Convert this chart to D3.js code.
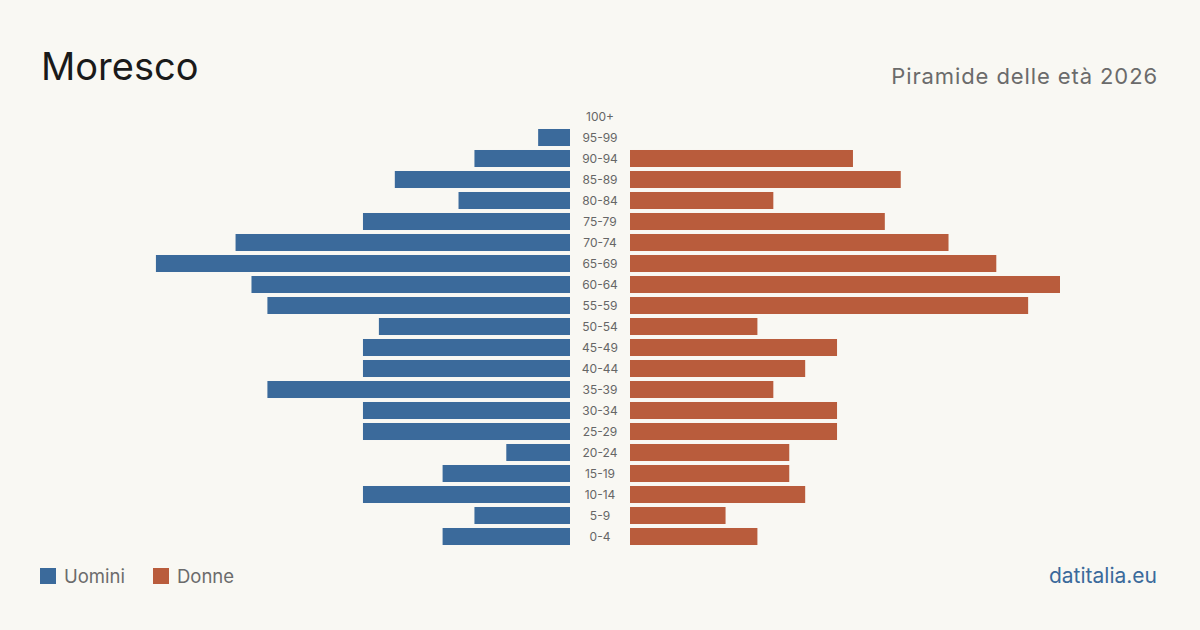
<!DOCTYPE html>
<html>
<head>
<meta charset="utf-8">
<script src="https://cdn.jsdelivr.net/npm/d3@7"></script>
<style>
  html, body { margin: 0; padding: 0; background: #f9f8f3; }
  svg { display: block; font-family: Inter, "Noto Sans", sans-serif; }
</style>
</head>
<body>
<svg id="chart"></svg>
<script>
// age classes, from youngest to oldest
const ages = ["0-4","5-9","10-14","15-19","20-24","25-29","30-34","35-39","40-44","45-49",
              "50-54","55-59","60-64","65-69","70-74","75-79","80-84","85-89","90-94","95-99","100+"];
const men   = [8, 6, 13, 8, 4, 13, 13, 19, 13, 13, 12, 19, 20, 26, 21, 13, 7, 11, 6, 2, 0];
const women = [8, 6, 11, 10, 10, 13, 13, 9, 11, 13, 8, 25, 27, 23, 20, 16, 9, 17, 14, 0, 0];

const title = "Moresco";
const subtitle = "Piramide delle età 2026";
const seriesNames = ["Uomini", "Donne"];
const source = "datitalia.eu";

const W = 1200, H = 630;
const colMen = "#3b6a9b", colWomen = "#b95c3c";

const svg = d3.select("#chart").attr("width", W).attr("height", H);
svg.append("rect").attr("width", W).attr("height", H).attr("fill", "#f9f8f3");

const rows = ages.map((a, i) => ({age: a, m: men[i], f: women[i]}));

const y = d3.scaleBand()
    .domain(ages.slice().reverse())
    .range([106, 547])
    .paddingInner(0.19)
    .paddingOuter(0.095);

const maxV = d3.max([...men, ...women]);
const xMen = d3.scaleLinear().domain([0, maxV]).range([570, 140]);
const xWomen = d3.scaleLinear().domain([0, maxV]).range([630, 1060]);

// bars
svg.append("g").selectAll("rect")
    .data(rows.filter(d => d.m > 0))
    .join("rect")
    .attr("x", d => xMen(d.m))
    .attr("y", d => y(d.age))
    .attr("width", d => xMen(0) - xMen(d.m))
    .attr("height", y.bandwidth())
    .attr("fill", colMen);

svg.append("g").selectAll("rect")
    .data(rows.filter(d => d.f > 0))
    .join("rect")
    .attr("x", xWomen(0))
    .attr("y", d => y(d.age))
    .attr("width", d => xWomen(d.f) - xWomen(0))
    .attr("height", y.bandwidth())
    .attr("fill", colWomen);

// age labels in the middle
svg.append("g").selectAll("text")
    .data(ages)
    .join("text")
    .attr("x", 600)
    .attr("y", d => y(d) + y.bandwidth() / 2)
    .attr("dy", "0.35em")
    .attr("text-anchor", "middle")
    .attr("font-size", 12)
    .attr("fill", "#666")
    .text(d => d);

// titles
svg.append("text")
    .attr("x", 41).attr("y", 80)
    .attr("font-size", 38)
    .attr("fill", "#1a1a1a")
    .text(title);

svg.append("text")
    .attr("x", 1158).attr("y", 84)
    .attr("text-anchor", "end")
    .attr("font-size", 22)
    .attr("letter-spacing", 0.9)
    .attr("fill", "#6b6b6b")
    .text(subtitle);

// legend
const legend = svg.append("g").selectAll("g")
    .data(seriesNames)
    .join("g")
    .attr("transform", (d, i) => `translate(${40 + i * 113}, 568)`);
legend.append("rect")
    .attr("width", 16).attr("height", 16)
    .attr("fill", (d, i) => i === 0 ? colMen : colWomen);
legend.append("text")
    .attr("x", 24).attr("y", 15)
    .attr("font-size", 18.5)
    .attr("fill", "#6b6b6b")
    .text(d => d);

svg.append("text")
    .attr("x", 1157).attr("y", 583)
    .attr("text-anchor", "end")
    .attr("font-size", 21)
    .attr("fill", "#3b6a9b")
    .text(source);
</script>
</body>
</html>
